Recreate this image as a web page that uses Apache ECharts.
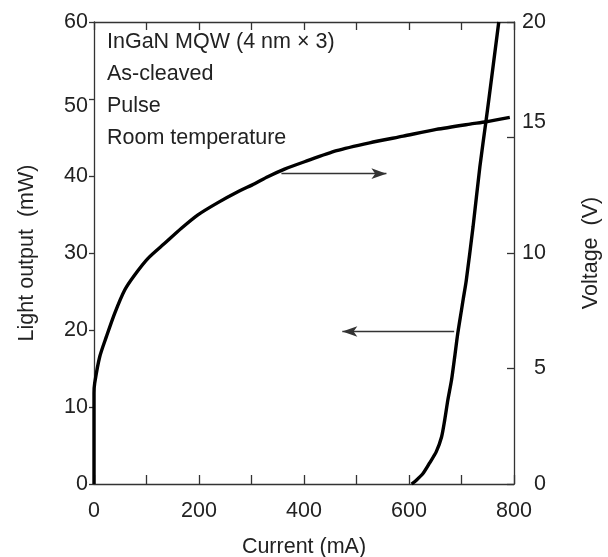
<!DOCTYPE html>
<html>
<head>
<meta charset="utf-8">
<script src="https://cdn.jsdelivr.net/npm/echarts@6/dist/echarts.min.js"></script>
<style>html,body{margin:0;padding:0;background:#fff}#c{width:608px;height:557px}</style>
</head>
<body>
<div id="c"></div>
<script>
// Light output (left axis, mW) vs current (mA)
var lightCurrent = [605, 614, 627, 639, 652, 662, 668, 674, 681, 687, 693, 700, 703, 709, 722, 735, 747, 752, 771];
var lightOutput  = [0, 0.5, 1.4, 2.7, 4.2, 6.1, 8.3, 10.9, 13.5, 16.5, 19.6, 22.6, 23.9, 26.4, 33.4, 41.2, 47.3, 49.9, 60];
// Voltage (right axis, V) vs current (mA)
var voltCurrent = [0, 0, 1.3, 10.9, 23.6, 39.4, 58.5, 77.5, 102.9, 134.7, 166.5, 198, 236, 274, 306, 331, 363, 401, 462, 525, 589, 652, 716, 747, 792];
var voltage     = [0, 3.94, 4.36, 5.51, 6.38, 7.39, 8.4, 9.05, 9.77, 10.42, 11.07, 11.65, 12.18, 12.65, 13.0, 13.3, 13.63, 13.95, 14.43, 14.77, 15.06, 15.35, 15.58, 15.68, 15.87];
// Arrows (current mA, light output mW)
var arrowToVoltage = [[357, 40.3], [557, 40.3]];
var arrowToLight   = [[686, 19.8], [473, 19.8]];
// Annotation lines
var notes = ['InGaN MQW (4 nm \u00d7 3)', 'As-cleaved', 'Pulse', 'Room temperature'];
// Tick labels
var xTicks = [0, 200, 400, 600, 800];
var leftTicks = [0, 10, 20, 30, 40, 50, 60];
var rightTicks = [0, 5, 10, 15, 20];

var FONT = 'Liberation Sans';
var FS = 21.5;
var TXT = '#222';
var AX = '#333';
var PLOT_H = 557 - 22 - 73;

function zip(a, b) { return a.map(function (v, i) { return [v, b[i]]; }); }

var chart = echarts.init(document.getElementById('c'), null, {renderer: 'canvas'});
var noteY = [42.5, 73.7, 105.7, 138];
chart.setOption({
  animation: false,
  backgroundColor: '#fff',
  grid: {left: 94, right: 94, top: 22, bottom: 73, containLabel: false, outerBoundsMode: 'none'},
  textStyle: {fontFamily: FONT},
  graphic: notes.map(function (t, i) {
    return {type: 'text', left: 107, top: noteY[i] - 11, style: {text: t, fontSize: FS, fontFamily: FONT, fill: TXT}};
  }),
  xAxis: [{
    type: 'value', min: 0, max: 800, interval: 100, position: 'bottom',
    name: 'Current (mA)', nameLocation: 'middle', nameGap: 52, nameMoveOverlap: false,
    nameTextStyle: {fontSize: FS, color: TXT, fontFamily: FONT},
    axisLine: {onZero: false, lineStyle: {color: AX, width: 1.3}},
    axisTick: {show: true, inside: true, length: 9, lineStyle: {color: AX, width: 1.3}},
    axisLabel: {margin: 16, fontSize: FS, color: TXT, fontFamily: FONT,
      formatter: function (v) { return xTicks.indexOf(v) >= 0 ? String(v) : ''; }},
    splitLine: {show: false}
  }, {
    // mirror axis drawn along the top edge, ticks pointing down into the plot
    type: 'value', min: 0, max: 800, interval: 100, position: 'bottom', offset: -PLOT_H,
    axisLine: {show: true, onZero: false, lineStyle: {color: AX, width: 1.3}},
    axisTick: {show: true, inside: false, length: 8, lineStyle: {color: AX, width: 1.3}},
    axisLabel: {show: false},
    splitLine: {show: false}
  }],
  yAxis: [{
    type: 'value', min: 0, max: 60, interval: 10, position: 'left',
    name: 'Light output  (mW)', nameLocation: 'middle', nameGap: 56, nameMoveOverlap: false,
    nameTextStyle: {fontSize: FS, color: TXT, fontFamily: FONT},
    axisLine: {show: true, onZero: false, lineStyle: {color: AX, width: 1.3}},
    axisTick: {show: true, inside: false, length: 5, lineStyle: {color: AX, width: 1.3}},
    axisLabel: {margin: 6, fontSize: FS, color: TXT, fontFamily: FONT,
      formatter: function (v) { return v === 50 ? '{dn|50}' : (leftTicks.indexOf(v) >= 0 ? String(v) : ''); },
      rich: {dn: {fontSize: FS, color: TXT, fontFamily: FONT, padding: [14, 0, 0, 0]}}},
    splitLine: {show: false}
  }, {
    type: 'value', min: 0, max: 20, interval: 5, position: 'right',
    name: 'Voltage  (V)', nameLocation: 'middle', nameGap: 66, nameMoveOverlap: false,
    nameTextStyle: {fontSize: FS, color: TXT, fontFamily: FONT},
    axisLine: {show: true, onZero: false, lineStyle: {color: AX, width: 1.3}},
    axisTick: {show: true, inside: true, length: 7, lineStyle: {color: AX, width: 1.3}},
    axisLabel: {margin: 32, align: 'right', fontSize: FS, color: TXT, fontFamily: FONT,
      formatter: function (v) { return v === 15 ? '{up|15}' : (rightTicks.indexOf(v) >= 0 ? String(v) : ''); },
      rich: {up: {fontSize: FS, color: TXT, fontFamily: FONT, padding: [0, 0, 30, 0]}}},
    splitLine: {show: false}
  }],
  series: [{
    name: 'Light output', type: 'line', xAxisIndex: 0, yAxisIndex: 0,
    data: zip(lightCurrent, lightOutput), showSymbol: false, smooth: 0.25,
    lineStyle: {color: '#000', width: 3.4},
    markLine: {
      silent: true, symbol: ['none', 'arrow'], symbolSize: [8, 15],
      label: {show: false},
      lineStyle: {color: AX, width: 1.4, type: 'solid'},
      data: [
        [{coord: arrowToVoltage[0]}, {coord: arrowToVoltage[1]}],
        [{coord: arrowToLight[0]}, {coord: arrowToLight[1]}]
      ]
    }
  }, {
    name: 'Voltage', type: 'line', xAxisIndex: 1, yAxisIndex: 1,
    data: zip(voltCurrent, voltage), showSymbol: false, smooth: 0.25,
    lineStyle: {color: '#000', width: 3.4}
  }]
});
</script>
</body>
</html>
